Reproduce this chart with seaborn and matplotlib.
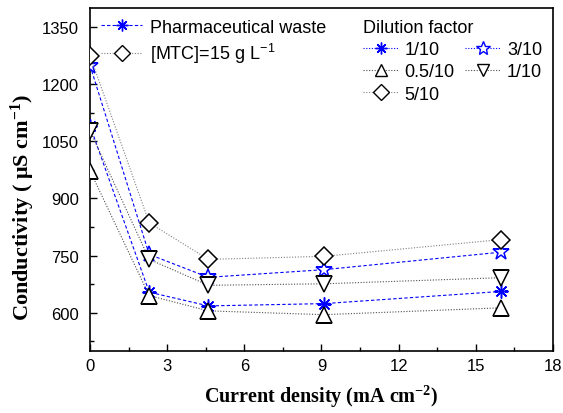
import pandas as pd
import matplotlib
matplotlib.use('Agg')
import matplotlib.pyplot as plt
import seaborn as sns
from matplotlib.lines import Line2D
from matplotlib.patches import Polygon
from matplotlib.ticker import MultipleLocator

# data
current_density = [0, 2.3, 4.6, 9.1, 16]
series_names = ['1/10', '3/10', '0.5/10', '1/10 ', '5/10']
cond_1_10 = [1090, 654, 618, 624, 656]
cond_3_10 = [1248, 753, 693, 713, 759]
cond_05_10 = [972, 645, 605, 595, 613]
cond_1_10b = [1077, 740, 672, 676, 692]
cond_5_10 = [1274, 836, 740, 748, 792]

values = [cond_1_10, cond_3_10, cond_05_10, cond_1_10b, cond_5_10]
df = pd.DataFrame({
    'x': current_density * len(series_names),
    'y': sum(values, []),
    'series': [s for s in series_names for _ in current_density],
})

sns.set_style('ticks')
plt.rcParams['font.family'] = ['Liberation Sans', 'DejaVu Sans']
plt.rcParams['xtick.direction'] = 'in'
plt.rcParams['ytick.direction'] = 'in'
for k in ['text.color', 'axes.labelcolor', 'xtick.color', 'ytick.color', 'axes.edgecolor']:
    plt.rcParams[k] = 'black'

fig = plt.figure(figsize=(5.63, 4.14), dpi=100)
ax = fig.add_axes([0.16, 0.15, 0.822, 0.829])

blue_dash = (0, (3, 2))
gray_dot = (0, (1, 1.5))
styles = {
    '1/10':   dict(color='blue', ls=blue_dash, marker=(8, 2, 0), mfc='blue', mec='blue', ms=10, lw=0.8),
    '3/10':   dict(color='blue', ls=blue_dash, marker='*', mfc='white', mec='blue', ms=12, lw=0.8),
    '0.5/10': dict(color='0.3', ls=gray_dot, marker='^', mfc='white', mec='black', ms=11, lw=0.8),
    '1/10 ':  dict(color='0.3', ls=gray_dot, marker='v', mfc='white', mec='black', ms=11, lw=0.8),
    '5/10':   dict(color='0.5', ls=gray_dot, marker='D', mfc='white', mec='black', ms=9, lw=0.8),
}

for name in series_names:
    st = styles[name]
    sub = df[df['series'] == name]
    sns.lineplot(data=sub, x='x', y='y', ax=ax, color=st['color'], linestyle=st['ls'],
                 linewidth=st['lw'], marker=st['marker'], markersize=st['ms'],
                 markerfacecolor=st['mfc'], markeredgecolor=st['mec'], markeredgewidth=1.1,
                 zorder=3)

# clip markers at the axes edge like the original (half markers at x = 0)
clip_poly = Polygon([(0, 0), (1, 0), (1, 1), (0, 1)], closed=True, transform=ax.transAxes)
for ln in ax.lines:
    ln.set_clip_path(clip_poly)

ax.set_xlim(0, 18)
ax.set_ylim(500, 1400)
ax.xaxis.set_major_locator(MultipleLocator(3))
ax.xaxis.set_minor_locator(MultipleLocator(1.5))
ax.yaxis.set_minor_locator(MultipleLocator(75))
ax.set_yticks([600, 750, 900, 1050, 1200, 1350])
ax.tick_params(which='major', length=5, width=1, labelsize=12, pad=5)
ax.tick_params(axis='y', which='major', pad=8)
ax.tick_params(which='minor', length=3, width=1)
for sp in ax.spines.values():
    sp.set_linewidth(1.2)

ax.set_xlabel('Current density (mA cm$\\mathregular{^{-2}}$)', fontsize=14.5, fontweight='bold',
              family='Liberation Serif', labelpad=7)
ax.set_ylabel('Conductivity ( $\\mathregular{\\mu}$S cm$\\mathregular{^{-1}}$)', fontsize=16,
              fontweight='bold', family='Liberation Serif')
ax.yaxis.set_label_coords(-0.114, 0.42)


def handle(name, **over):
    st = dict(styles[name])
    st.update(over)
    return Line2D([], [], color=st['color'], linestyle=st['ls'], linewidth=st['lw'],
                  marker=st['marker'], markersize=st['ms'] * 0.85, markerfacecolor=st['mfc'],
                  markeredgecolor=st['mec'], markeredgewidth=1.0)


leg1 = ax.legend([handle('1/10'), handle('5/10')],
                 ['Pharmaceutical waste', '[MTC]=15 g L$\\mathregular{^{-1}}$'],
                 loc='upper left', bbox_to_anchor=(0.0, 1.0), frameon=False,
                 fontsize=13, handlelength=2.3, handletextpad=0.4, borderaxespad=0.2,
                 labelspacing=0.3)
ax.add_artist(leg1)

dil_handles = [handle('1/10', ls=gray_dot), handle('0.5/10'), handle('5/10'),
               handle('3/10', ls=gray_dot), handle('1/10 ')]
dil_labels = ['1/10', '0.5/10', '5/10', '3/10', '1/10']
leg2 = ax.legend(dil_handles, dil_labels, title='Dilution factor', ncol=2,
                 loc='upper right', bbox_to_anchor=(1.0, 1.0), frameon=False,
                 fontsize=13, title_fontsize=13, handlelength=2.0, handletextpad=0.3,
                 columnspacing=0.6, borderaxespad=0.2, labelspacing=0.3)
leg2._legend_box.align = 'left'

fig.savefig('out.png', dpi=100)
